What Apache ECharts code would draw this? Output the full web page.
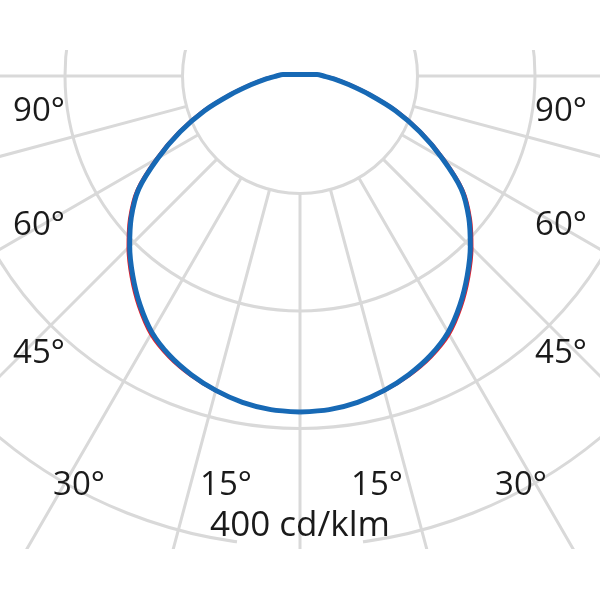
<!DOCTYPE html>
<html>
<head>
<meta charset="utf-8">
<script src="https://cdn.jsdelivr.net/npm/echarts@6/dist/echarts.min.js"></script>
<style>
html,body{margin:0;padding:0;background:#fff;}
#chart{width:600px;height:600px;}
</style>
</head>
<body>
<div id="chart"></div>
<script>
// Angles (degrees from nadir) and luminous intensity (cd/klm)
const angles = [0,5,10,15,20,25,30,35,40,45,50,55,60,65,70,75,80,85,90,95,100,105,110,120,135,150,165,180];
const planeC0 = [286,285,282,277,270.5,262.5,252,237.5,221.5,205,187.5,167.5,139.5,112.5,86.5,61,42,29.5,20,14.6,7.35,4.93,3.73,2.55,1.8,1.47,1.32,1.28];
const planeC90 = [286,285,282,277.5,271.5,264,254,239.5,223.5,207,189.5,169.5,141.5,114.5,88.5,63,44,31,20.5,14.6,7.35,4.93,3.73,2.55,1.8,1.47,1.32,1.28];
const radiusTicks = [0,100,200,300,400,500];
const angleLabels = ['90°','60°','45°','30°','15°','15°','30°','45°','60°','90°'];
const unitLabel = '400 cd/klm';

const gridColor = '#d9d9d9';
const cx = 300, cy = 76;
const pxPerUnit = 1.175;
const rMaxVal = radiusTicks[radiusTicks.length-1];

function loop(vals){
  const pts = [];
  for (let i=0;i<angles.length;i++) pts.push([vals[i], angles[i]]);
  for (let i=angles.length-2;i>=0;i--) pts.push([vals[i], 360-angles[i]]);
  return pts;
}

const chart = echarts.init(document.getElementById('chart'), null, {renderer:'canvas'});
const font = '"Open Sans", sans-serif';
function label(text, x, y, size){
  return {type:'text', z:30, x:x, y:y, style:{text:text, fill:'#1a1a1a', font: size+'px '+font, textAlign:'center', textVerticalAlign:'middle'}};
}
const gapHalf = Math.asin(63/(400*pxPerUnit));
chart.setOption({
  animation:false,
  backgroundColor:'#fff',
  polar:[
    {center:[cx,cy], radius: rMaxVal*pxPerUnit},
    {center:[cx,cy], radius:[100*pxPerUnit, 700]}
  ],
  radiusAxis:[
    {polarIndex:0, min:0, max:rMaxVal, interval:100, z:0,
     axisLine:{show:false}, axisTick:{show:false}, axisLabel:{show:false},
     splitLine:{show:true, lineStyle:{color:gridColor, width:3}}},
    {polarIndex:1, min:0, max:100, axisLine:{show:false}, axisTick:{show:false}, axisLabel:{show:false}, splitLine:{show:false}}
  ],
  angleAxis:[
    {polarIndex:0, type:'value', min:0, max:360, startAngle:270, clockwise:true,
     axisLine:{show:false}, axisTick:{show:false}, axisLabel:{show:false}, splitLine:{show:false}},
    {polarIndex:1, type:'value', min:0, max:360, interval:15, startAngle:270, clockwise:true, z:3,
     axisLine:{show:false}, axisTick:{show:false}, axisLabel:{show:false},
     splitLine:{show:true, lineStyle:{color:gridColor, width:3}}}
  ],
  graphic:[
    {type:'arc', z:2, shape:{cx:cx, cy:cy, r:400*pxPerUnit, startAngle:Math.PI/2-gapHalf, endAngle:Math.PI/2+gapHalf}, style:{stroke:'#fff', lineWidth:6, fill:null}},
    {type:'rect', z:20, shape:{x:0,y:0,width:600,height:50}, style:{fill:'#fff'}},
    {type:'rect', z:20, shape:{x:0,y:549,width:600,height:51}, style:{fill:'#fff'}},
    label(angleLabels[0], 39, 112, 33),
    label(angleLabels[1], 39, 226, 33),
    label(angleLabels[2], 39, 354, 33),
    label(angleLabels[3], 79, 486, 33),
    label(angleLabels[4], 226, 486, 33),
    label(angleLabels[5], 377, 486, 33),
    label(angleLabels[6], 521, 486, 33),
    label(angleLabels[7], 561, 354, 33),
    label(angleLabels[8], 561, 226, 33),
    label(angleLabels[9], 561, 112, 33),
    label(unitLabel, 300, 526, 35)
  ],
  series:[
    {type:'line', coordinateSystem:'polar', polarIndex:0, name:'C90-C270', data:loop(planeC90), smooth:0.3,
     showSymbol:false, z:4, lineStyle:{color:'#e01f2d', width:3}},
    {type:'line', coordinateSystem:'polar', polarIndex:0, name:'C0-C180', data:loop(planeC0), smooth:0.3,
     showSymbol:false, z:5, lineStyle:{color:'#1769b5', width:5}}
  ]
});
</script>
</body>
</html>
